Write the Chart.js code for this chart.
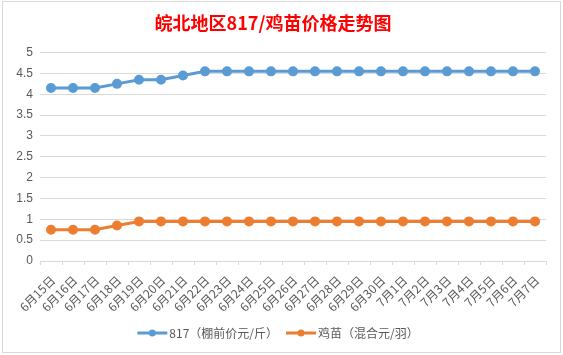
<!DOCTYPE html>
<html>
<head>
<meta charset="utf-8">
<script src="https://cdn.jsdelivr.net/npm/chart.js@4/dist/chart.umd.min.js"></script>
<style>
html,body{margin:0;padding:0;background:#fff;}
#wrap{width:563px;height:355px;position:relative;}
</style>
</head>
<body>
<div id="wrap"><canvas id="c" width="563" height="355"></canvas></div>
<script>
const categories = ['6月15日','6月16日','6月17日','6月18日','6月19日','6月20日','6月21日','6月22日','6月23日','6月24日','6月25日','6月26日','6月27日','6月28日','6月29日','6月30日','7月1日','7月2日','7月3日','7月4日','7月5日','7月6日','7月7日'];
const price817 = [4.15,4.15,4.15,4.25,4.35,4.35,4.45,4.55,4.55,4.55,4.55,4.55,4.55,4.55,4.55,4.55,4.55,4.55,4.55,4.55,4.55,4.55,4.55];
const chickPrice = [0.75,0.75,0.75,0.85,0.95,0.95,0.95,0.95,0.95,0.95,0.95,0.95,0.95,0.95,0.95,0.95,0.95,0.95,0.95,0.95,0.95,0.95,0.95];
const seriesNames = ['817（棚前价元/斤）','鸡苗（混合元/羽）'];
const titleText = '皖北地区817/鸡苗价格走势图';

const FONT = '"Noto Sans CJK SC", "Liberation Sans", sans-serif';

const borderPlugin = {
  id: 'frame',
  beforeDraw(chart) {
    const ctx = chart.ctx;
    ctx.save();
    ctx.fillStyle = '#fff';
    ctx.fillRect(0,0,chart.width,chart.height);
    ctx.strokeStyle = '#d9d9d9';
    ctx.lineWidth = 1;
    ctx.strokeRect(2.5, 1.5, 558, 351);
    ctx.restore();
  }
};

const legendPlugin = {
  id: 'customLegend',
  afterDraw(chart) {
    const ctx = chart.ctx;
    ctx.save();
    ctx.font = '12px ' + FONT;
    const lineLen = 30, gap1 = 2, gap2 = 8;
    const items = chart.data.datasets.map(ds => ({
      label: ds.label, color: ds.borderColor, w: ctx.measureText(ds.label).width
    }));
    let total = 0;
    items.forEach((it,i) => { total += lineLen + gap1 + it.w + (i < items.length-1 ? gap2 : 0); });
    let x = 278 - total/2;
    const y = 333;
    items.forEach(it => {
      ctx.strokeStyle = it.color;
      ctx.lineWidth = 3;
      ctx.beginPath();
      ctx.moveTo(x, y); ctx.lineTo(x + lineLen, y);
      ctx.stroke();
      ctx.fillStyle = it.color;
      ctx.beginPath();
      ctx.arc(x + lineLen/2, y, 3.5, 0, Math.PI*2);
      ctx.fill();
      x += lineLen + gap1;
      ctx.fillStyle = '#595959';
      ctx.textBaseline = 'middle';
      ctx.textAlign = 'left';
      ctx.fillText(it.label, x, y);
      x += it.w + gap2;
    });
    ctx.restore();
  }
};

new Chart(document.getElementById('c'), {
  type: 'line',
  data: {
    labels: categories,
    datasets: [
      { label: seriesNames[0], data: price817, borderColor: '#5B9BD5', backgroundColor: '#5B9BD5',
        pointBackgroundColor: '#5B9BD5', pointBorderColor: '#5B9BD5', borderWidth: 3, pointRadius: 3.5, tension: 0 },
      { label: seriesNames[1], data: chickPrice, borderColor: '#ED7D31', backgroundColor: '#ED7D31',
        pointBackgroundColor: '#ED7D31', pointBorderColor: '#ED7D31', borderWidth: 3, pointRadius: 3.5, tension: 0 }
    ]
  },
  options: {
    responsive: false,
    animation: false,
    devicePixelRatio: 1,
    layout: { padding: { left: 0, right: 17, top: 0, bottom: 0 } },
    plugins: {
      legend: { display: false },
      tooltip: { enabled: false },
      title: {
        display: true, text: titleText, color: '#FF0000',
        font: { family: FONT, size: 18, weight: 'bold', lineHeight: 1.2 },
        padding: { top: 12, bottom: 19 }
      }
    },
    scales: {
      x: {
        offset: true,
        grid: { display: true, drawOnChartArea: false, drawTicks: true, tickLength: 4, color: '#d9d9d9', offset: true },
        border: { display: true, color: '#d9d9d9', width: 1 },
        ticks: { autoSkip: false, maxRotation: 45, minRotation: 45, color: '#595959', padding: 8, labelOffset: 2,
                 font: { family: FONT, size: 12 } },
        afterFit(scale) { scale.height = 94; }
      },
      y: {
        min: 0, max: 5,
        grid: { color: '#d9d9d9', drawTicks: false, lineWidth: 1 },
        border: { display: false },
        ticks: { stepSize: 0.5, color: '#595959', padding: 7, font: { family: '"Liberation Sans", sans-serif', size: 12 },
                 callback: v => String(+Number(v).toFixed(1)) },
        afterFit(scale) { scale.width = 40; }
      }
    }
  },
  plugins: [borderPlugin, legendPlugin]
});
</script>
</body>
</html>
